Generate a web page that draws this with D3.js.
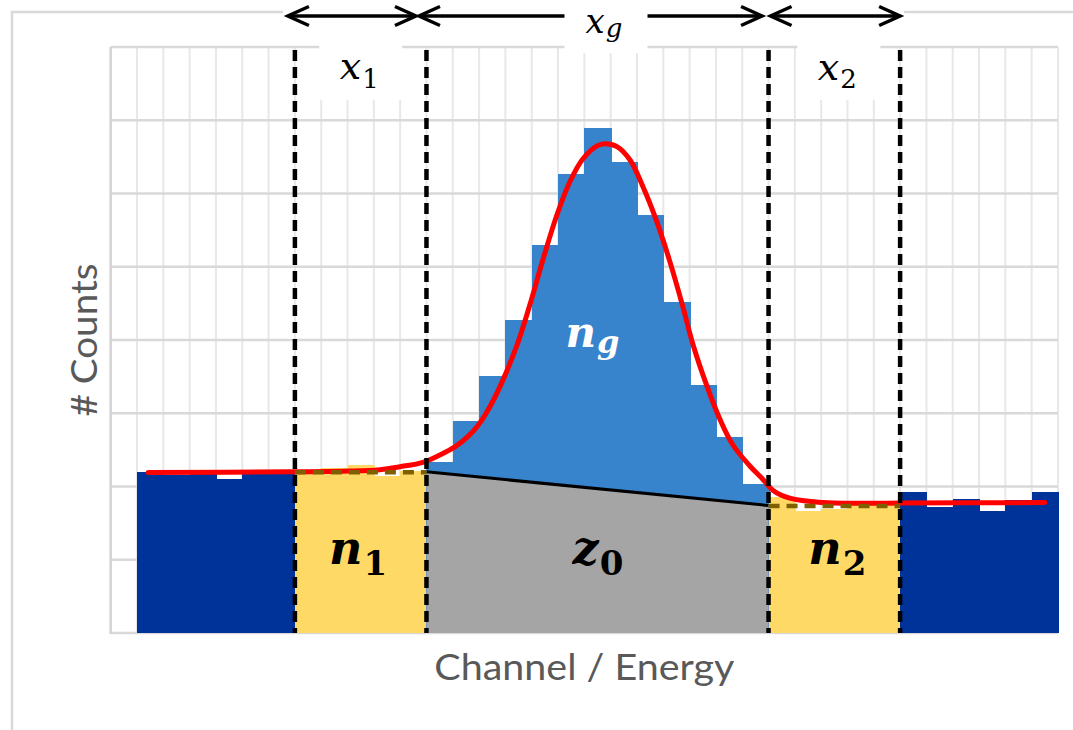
<!DOCTYPE html>
<html>
<head>
<meta charset="utf-8">
<script src="https://cdn.jsdelivr.net/npm/d3@7"></script>
<style>
  html, body { margin: 0; padding: 0; background: #fff; }
  svg { display: block; }
</style>
</head>
<body>
<svg id="chart" width="1073" height="730"></svg>
<script>
// ── data ────────────────────────────────────────────────
// counts per channel, channel 0 has no bar, channels 1..35
const bgLeft  = [220, 216, 220, 210, 220, 220];
const win1    = [221, 225, 229, 214, 221];
const peak    = [233, 289, 351, 427, 530, 627, 689, 643, 571, 452, 339, 268, 203];
const win2    = [186, 167, 169, 175, 176];
const bgRight = [193, 172, 183, 166, 181, 193];

// region edges in channel units (dashed markers at the inner ones)
const regionEdges = [1, 7, 12, 25, 30, 36];
const markerEdges = [7, 12, 25, 30];

// mean background level in the two side windows
const n1Mean = 220;
const n2Mean = 174;

// fitted curve (channel, counts)
const fitX = [1.42, 6.93, 9.09, 10.23, 10.99, 11.87, 12.51, 13.08, 13.54, 13.95, 14.41, 14.79,
  15.44, 15.93, 16.42, 16.96, 17.45, 17.94, 18.48, 18.78, 19.24, 19.73, 20.22, 20.76, 21.25,
  21.74, 22.12, 22.66, 23.15, 23.64, 24.29, 24.78, 25.16, 25.81, 27.06, 28.47, 29.99, 35.5];
const fitY = [219, 220, 221, 223, 227, 233, 243, 254, 267, 283, 309, 336,
  393, 448, 509, 571, 616, 647, 665, 668, 664, 646, 610, 561, 507,
  446, 395, 337, 292, 257, 228, 210, 195, 184, 178, 177, 177.5, 178];

const yTicks = [0, 100, 200, 300, 400, 500, 600, 700, 800];

// ── layout ──────────────────────────────────────────────
const W = 1073, H = 730;
const plot = { left: 110.7, right: 1058, top: 47, bottom: 633 };

const x = d3.scaleLinear().domain([0, 36]).range([plot.left, plot.right]);
const y = d3.scaleLinear().domain([0, 800]).range([plot.bottom, plot.top]);

const svg = d3.select('#chart');
svg.append('rect').attr('width', W).attr('height', H).attr('fill', '#fff');

// outer frame (only left and top visible)
svg.append('path')
  .attr('d', `M12,${H} V12 H${W}`)
  .attr('fill', 'none').attr('stroke', '#d9d9d9').attr('stroke-width', 2.5);

// white strip behind the arrows hides the frame line
svg.append('rect').attr('x', 283).attr('y', 0).attr('width', 621).attr('height', 30).attr('fill', '#fff');

// gridlines
const grid = svg.append('g');
grid.selectAll('.vg').data(d3.range(0, 37)).join('line')
  .attr('x1', d => x(d)).attr('x2', d => x(d))
  .attr('y1', plot.top).attr('y2', plot.bottom)
  .attr('stroke', '#e8e8e8').attr('stroke-width', 2);
grid.selectAll('.hg').data(yTicks).join('line')
  .attr('x1', plot.left).attr('x2', plot.right)
  .attr('y1', d => y(d)).attr('y2', d => y(d))
  .attr('stroke', '#d9d9d9').attr('stroke-width', 2.5);
grid.append('line')
  .attr('x1', plot.left).attr('x2', plot.left)
  .attr('y1', plot.top).attr('y2', plot.bottom + 1)
  .attr('stroke', '#d4d4d4').attr('stroke-width', 2.5);

// bars
const regions = [
  { vals: bgLeft,  color: '#003399' },
  { vals: win1,    color: '#ffd966' },
  { vals: peak,    color: '#3783cc' },
  { vals: win2,    color: '#ffd966' },
  { vals: bgRight, color: '#003399' }
];
const bars = [];
regions.forEach((r, i) => {
  r.vals.forEach((v, j) => bars.push({ ch: regionEdges[i] + j, v, color: r.color }));
});
svg.append('g').attr('shape-rendering', 'crispEdges')
  .selectAll('rect').data(bars).join('rect')
  .attr('x', d => x(d.ch))
  .attr('width', d => x(d.ch + 1) - x(d.ch) + 1)
  .attr('y', d => y(d.v))
  .attr('height', d => y(0) - y(d.v))
  .attr('fill', d => d.color);

// linear background under the peak (z0)
const bgPts = [[12, 0], [12, n1Mean], [25, n2Mean], [25, 0]];
svg.append('path')
  .attr('d', d3.line().x(d => x(d[0])).y(d => y(d[1]))(bgPts) + 'Z')
  .attr('fill', '#a5a5a5');
svg.append('line')
  .attr('x1', x(12)).attr('y1', y(n1Mean))
  .attr('x2', x(25)).attr('y2', y(n2Mean))
  .attr('stroke', '#000').attr('stroke-width', 3);

// fitted curve
svg.append('path')
  .datum(fitX.map((d, i) => [d, fitY[i]]))
  .attr('d', d3.line().x(d => x(d[0])).y(d => y(d[1])).curve(d3.curveCatmullRom.alpha(0.5)))
  .attr('fill', 'none').attr('stroke', '#ff0000').attr('stroke-width', 5)
  .attr('stroke-linecap', 'round');

// mean levels in the side windows
[[7, 12, n1Mean], [25, 30, n2Mean]].forEach(([a, b, m]) => {
  svg.append('line')
    .attr('x1', x(a)).attr('x2', x(b)).attr('y1', y(m) + 0.5).attr('y2', y(m) + 0.5)
    .attr('stroke', '#7f6000').attr('stroke-width', 4.5).attr('stroke-dasharray', '11,7');
});

// window markers
svg.append('g').selectAll('line').data(markerEdges).join('line')
  .attr('x1', d => x(d)).attr('x2', d => x(d))
  .attr('y1', 50).attr('y2', plot.bottom)
  .attr('stroke', '#000').attr('stroke-width', 4.5).attr('stroke-dasharray', '11,6');

// arrows on top
const arrows = [[x(7) - 7, x(12) - 10.5], [x(12) - 7.5, x(25) - 6.5], [x(25) + 2, x(30)]];
const arrowG = svg.append('g').attr('stroke', '#000').attr('stroke-width', 3.5).attr('fill', 'none');
arrows.forEach(([a, b]) => {
  const ay = 16;
  arrowG.append('line').attr('x1', a + 2).attr('x2', b - 2).attr('y1', ay).attr('y2', ay);
  arrowG.append('path').attr('d', `M${a + 21},${ay - 9.5} L${a},${ay} L${a + 21},${ay + 9.5}`);
  arrowG.append('path').attr('d', `M${b - 21},${ay - 9.5} L${b},${ay} L${b - 21},${ay + 9.5}`);
});

// label boxes covering grid
const boxes = [
  { cx: (x(7) + x(12)) / 2,      y0: 38, y1: 100 },
  { cx: (x(12) + x(25)) / 2 + 8.5, y0: 0,  y1: 53 },
  { cx: (x(25) + x(30)) / 2 + 4.5, y0: 38, y1: 100 }
];
svg.append('g').selectAll('rect').data(boxes).join('rect')
  .attr('x', d => d.cx - 41.5).attr('width', 83)
  .attr('y', d => d.y0).attr('height', d => d.y1 - d.y0)
  .attr('fill', '#fff');

// math labels: italic letter, subscript upright when it is a digit
function mathLabel(cx, base, main, sub, size, subSize, subDy, opts) {
  const t = svg.append('text')
    .attr('x', cx).attr('y', base)
    .attr('text-anchor', 'middle')
    .attr('font-family', '"DejaVu Serif", serif')
    .attr('font-weight', opts.bold ? 'bold' : 'normal')
    .attr('fill', opts.fill || '#000');
  t.append('tspan').attr('font-size', size).attr('font-style', 'italic').text(main);
  t.append('tspan').attr('font-size', subSize).attr('dy', subDy).attr('dx', 1)
    .attr('font-style', /\d/.test(sub) ? 'normal' : 'italic').text(sub);
}
mathLabel((x(7) + x(12)) / 2 - 1.5, 79, 'x', '1', 38, 26, 8.5, {});
mathLabel((x(12) + x(25)) / 2 + 6.5, 32.5, 'x', 'g', 34, 26, 4.5, {});
mathLabel((x(25) + x(30)) / 2 + 3, 80, 'x', '2', 38, 26, 8, {});

mathLabel((x(7) + x(12)) / 2 - 2.5, 564, 'n', '1', 46, 34, 11, { bold: true });
mathLabel((x(12) + x(25)) / 2 + 0.5, 564, 'z', '0', 46, 34, 11, { bold: true });
mathLabel((x(25) + x(30)) / 2 + 3, 564, 'n', '2', 46, 34, 11, { bold: true });
mathLabel(592.5, 347, 'n', 'g', 42, 32, 6, { bold: true, fill: '#fff' });

// axis titles
svg.append('text')
  .attr('x', (plot.left + plot.right) / 2).attr('y', 680)
  .attr('text-anchor', 'middle')
  .attr('font-family', 'Lato, "Open Sans", sans-serif')
  .attr('font-size', 37).attr('fill', '#595959')
  .attr('textLength', 300).attr('lengthAdjust', 'spacingAndGlyphs')
  .text('Channel / Energy');
svg.append('text')
  .attr('transform', `translate(97,${(plot.top + plot.bottom) / 2}) rotate(-90)`)
  .attr('text-anchor', 'middle')
  .attr('font-family', 'Lato, "Open Sans", sans-serif')
  .attr('font-size', 37).attr('fill', '#595959')
  .attr('textLength', 153).attr('lengthAdjust', 'spacingAndGlyphs')
  .text('# Counts');
</script>
</body>
</html>
